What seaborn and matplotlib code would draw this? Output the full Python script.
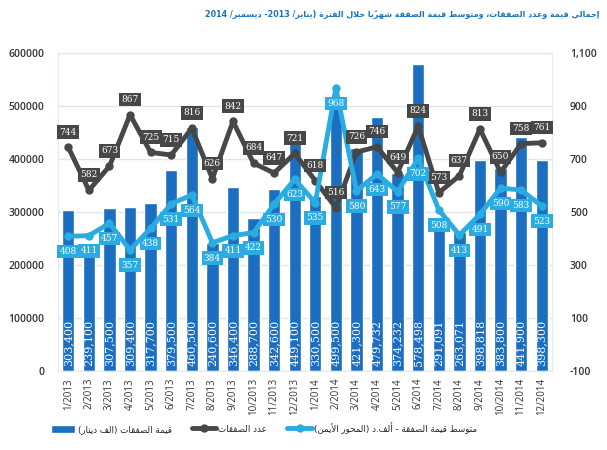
import numpy as np
import matplotlib
matplotlib.use('Agg')
import matplotlib.pyplot as plt
import seaborn as sns

# --- data ---
months = ['1/2013', '2/2013', '3/2013', '4/2013', '5/2013', '6/2013', '7/2013', '8/2013',
          '9/2013', '10/2013', '11/2013', '12/2013', '1/2014', '2/2014', '3/2014', '4/2014',
          '5/2014', '6/2014', '7/2014', '8/2014', '9/2014', '10/2014', '11/2014', '12/2014']
deal_value = [303400, 239100, 307500, 309400, 317700, 379500, 460500, 240600,
              346400, 288700, 342600, 449100, 330500, 499500, 421300, 479732,
              374232, 578498, 291091, 263071, 398818, 383800, 441900, 398300]
deal_count = [744, 582, 673, 867, 725, 715, 816, 626, 842, 684, 647, 721,
              618, 516, 726, 746, 649, 824, 573, 637, 813, 650, 758, 761]
avg_value = [408, 411, 457, 357, 438, 531, 564, 384, 411, 422, 530, 623,
             535, 968, 580, 643, 577, 702, 508, 413, 491, 590, 583, 523]

title = 'إجمالي قيمة وعدد الصفقات، ومتوسط قيمة الصفقة شهريًا خلال الفترة (يناير/ 2013- ديسمبر/ 2014'
lbl_bars = 'قيمة الصفقات (الف دينار)'
lbl_count = 'عدد الصفقات'
lbl_avg = 'متوسط قيمة الصفقة - ألف.د (المحور الأيمن)'

# --- tiny arabic shaper (matplotlib has no complex text layout) ---
AR_FORMS = {
    'ء': (0xFE80, 1), 'آ': (0xFE81, 2), 'أ': (0xFE83, 2), 'ؤ': (0xFE85, 2), 'إ': (0xFE87, 2),
    'ئ': (0xFE89, 4), 'ا': (0xFE8D, 2), 'ب': (0xFE8F, 4), 'ة': (0xFE93, 2), 'ت': (0xFE95, 4),
    'ث': (0xFE99, 4), 'ج': (0xFE9D, 4), 'ح': (0xFEA1, 4), 'خ': (0xFEA5, 4), 'د': (0xFEA9, 2),
    'ذ': (0xFEAB, 2), 'ر': (0xFEAD, 2), 'ز': (0xFEAF, 2), 'س': (0xFEB1, 4), 'ش': (0xFEB5, 4),
    'ص': (0xFEB9, 4), 'ض': (0xFEBD, 4), 'ط': (0xFEC1, 4), 'ظ': (0xFEC5, 4), 'ع': (0xFEC9, 4),
    'غ': (0xFECD, 4), 'ف': (0xFED1, 4), 'ق': (0xFED5, 4), 'ك': (0xFED9, 4), 'ل': (0xFEDD, 4),
    'م': (0xFEE1, 4), 'ن': (0xFEE5, 4), 'ه': (0xFEE9, 4), 'و': (0xFEED, 2), 'ى': (0xFEEF, 2),
    'ي': (0xFEF1, 4),
}
LAM_ALEF = {'ا': 0xFEFB, 'أ': 0xFEF7, 'إ': 0xFEF9, 'آ': 0xFEF5}
MARKS = set('\u064b\u064c\u064d\u064e\u064f\u0650\u0651\u0652')


def joins_next(c):
    if c.startswith('LA'):
        return False
    return c in AR_FORMS and AR_FORMS[c][1] == 4


def joins_prev(c):
    return c.startswith('LA') or (c in AR_FORMS and AR_FORMS[c][1] >= 2)


def ar(s):
    clusters = []
    for c in s:
        if c in MARKS and clusters:
            clusters[-1][1].append(c)
        else:
            clusters.append([c, []])
    merged = []
    i = 0
    while i < len(clusters):
        c, m = clusters[i]
        if c == 'ل' and i + 1 < len(clusters) and clusters[i + 1][0] in LAM_ALEF:
            merged.append(['LA' + clusters[i + 1][0], m + clusters[i + 1][1]])
            i += 2
        else:
            merged.append([c, m])
            i += 1
    glyphs = []
    for i, (c, m) in enumerate(merged):
        prev = merged[i - 1][0] if i > 0 else ''
        nxt = merged[i + 1][0] if i + 1 < len(merged) else ''
        jp = bool(prev) and joins_prev(c) and joins_next(prev)
        jn = bool(nxt) and joins_next(c) and joins_prev(nxt)
        if c.startswith('LA'):
            g = chr(LAM_ALEF[c[2]] + (1 if jp else 0))
        elif c in AR_FORMS:
            base, n = AR_FORMS[c]
            if n == 1:
                g = chr(base)
            elif jp and jn:
                g = chr(base + 3)
            elif jn:
                g = chr(base + 2)
            elif jp:
                g = chr(base + 1)
            else:
                g = chr(base)
        else:
            g = c
        glyphs.append(g + ''.join(m))
    # keep digit runs left-to-right, reverse the rest
    runs = []
    for g in glyphs:
        if g.isdigit() and runs and runs[-1].isdigit():
            runs[-1] += g
        else:
            runs.append(g)
    mirror = {'(': ')', ')': '('}
    return ''.join(mirror.get(r, r) for r in reversed(runs))


# --- plot ---
sns.set_style('white')
plt.rcParams['font.family'] = ['DejaVu Sans']

bar_c = '#1c6fc0'
gray_c = '#474747'
light_c = '#2aabe2'
pos = np.arange(len(months))

fig = plt.figure(figsize=(6.07, 4.5), dpi=100)
ax = fig.add_axes([0.0956, 0.1756, 0.8138, 0.7066])

sns.barplot(x=months, y=deal_value, color=bar_c, saturation=1, width=0.6, ax=ax, zorder=2)
ax.set_ylim(0, 600000)
ax.set_yticks(range(0, 600001, 100000))
ax.grid(axis='y', color='#dce6ef', lw=1, zorder=0)
ax.set_axisbelow(True)
for s in ax.spines.values():
    s.set_color('#e3ebf2')
ax.tick_params(axis='y', length=0, pad=10, labelsize=7.5, labelcolor='#333333')
ax.tick_params(axis='x', length=0, pad=5, labelsize=7, labelcolor='#333333', rotation=90)
for lab in ax.get_yticklabels():
    lab.set_family('Open Sans')
    lab.set_fontweight('semibold')
for lab in ax.get_xticklabels():
    lab.set_family('Open Sans')

# values written inside the bars
for i, v in enumerate(deal_value):
    ax.text(i, 9000, f'{v:,}', rotation=90, ha='center', va='bottom', color='white',
            fontsize=8, family='DejaVu Serif', zorder=3)

ax2 = ax.twinx()
sns.lineplot(x=pos, y=deal_count, ax=ax2, color=gray_c, lw=3.5, marker='o',
             markersize=6, markeredgewidth=0, legend=False)
sns.lineplot(x=pos, y=avg_value, ax=ax2, color=light_c, lw=3.5, marker='o',
             markersize=6, markeredgewidth=0, legend=False)
ax2.set_ylim(-100, 1100)
ax2.set_yticks(range(-100, 1101, 200))
ax2.set_yticklabels([f'{t:,}' for t in range(-100, 1101, 200)])
ax2.tick_params(axis='y', length=0, pad=13, labelsize=7.5, labelcolor='#333333')
for lab in ax2.get_yticklabels():
    lab.set_family('Open Sans')
    lab.set_fontweight('semibold')
ax2.set_ylabel('')
for s in ax2.spines.values():
    s.set_color('#e3ebf2')
ax.set_xlim(-0.5, len(months) - 0.5)
ax.set_xlabel('')

for i, v in enumerate(deal_count):
    ax2.annotate(str(v), (i, v), xytext=(0, 11), textcoords='offset points',
                 ha='center', va='center', fontsize=6.5, color='white', family='DejaVu Serif',
                 bbox=dict(boxstyle='square,pad=0.25', fc=gray_c, ec='none'), zorder=5)
for i, v in enumerate(avg_value):
    ax2.annotate(str(v), (i, v), xytext=(0, -11), textcoords='offset points',
                 ha='center', va='center', fontsize=6.5, color='white', family='DejaVu Serif',
                 bbox=dict(boxstyle='square,pad=0.25', fc=light_c, ec='none'), zorder=5)

fig.text(0.988, 0.968, ar(title), ha='right', va='center', fontsize=5.8,
         fontweight='bold', color='#1b75bb')

handles = [ax.patches[0], ax2.lines[0], ax2.lines[1]]
fig.legend(handles, [ar(lbl_bars), ar(lbl_count), ar(lbl_avg)], loc='center',
           bbox_to_anchor=(0.435, 0.049), ncol=3, frameon=False, fontsize=6.3,
           handlelength=2.8, handleheight=1.0, columnspacing=2.3, handletextpad=0.25)

fig.savefig('out.png', dpi=100)
